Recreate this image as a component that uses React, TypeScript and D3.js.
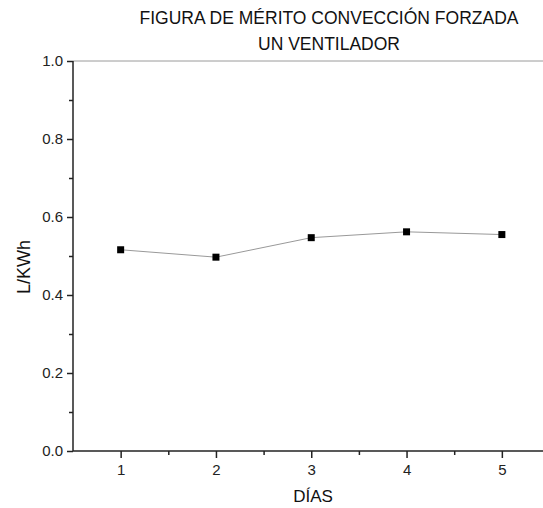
import React, { useEffect, useRef } from 'react';
import * as d3 from 'd3';

const days = [1, 2, 3, 4, 5];
const meritValues = [0.516, 0.497, 0.547, 0.562, 0.555];
const yTicks = [0.0, 0.2, 0.4, 0.6, 0.8, 1.0];
const titleLines = ['FIGURA DE MÉRITO CONVECCIÓN FORZADA', 'UN VENTILADOR'];

const W = 543;
const H = 508;
const margin = { top: 61, left: 73, bottom: 57 };
const font = 'Liberation Sans, Arial, sans-serif';

const drawChart = (node: SVGSVGElement) => {
    const svg = d3.select(node);
    svg.selectAll('*').remove();

    const plotH = H - margin.top - margin.bottom;

    // x runs 0.5 .. 5.5, the right edge is cut off by the picture
    const x = d3.scaleLinear().domain([0.5, 5.5]).range([margin.left, margin.left + 476.5]);
    const y = d3.scaleLinear().domain([0, 1]).range([margin.top + plotH, margin.top]);

    svg.append('rect').attr('width', W).attr('height', H).attr('fill', '#fff');

    // top frame line
    svg.append('line')
        .attr('x1', x(0.5)).attr('x2', W)
        .attr('y1', y(1)).attr('y2', y(1))
        .attr('stroke', '#9a9a9a').attr('stroke-width', 1);

    // --- X axis ---
    const xAxis = d3.axisBottom(x)
        .tickValues(days)
        .tickSize(7)
        .tickPadding(6)
        .tickFormat(d3.format('d'));
    const xg = svg.append('g').attr('transform', `translate(0, ${y(0)})`).call(xAxis);
    xg.select('.domain').attr('d', `M${x(0.5)},0H${W}`);
    const xMinor = d3.axisBottom(x).tickValues([1.5, 2.5, 3.5, 4.5]).tickSize(4).tickFormat(() => '');
    const xmg = svg.append('g').attr('transform', `translate(0, ${y(0)})`).call(xMinor);
    xmg.select('.domain').remove();

    // --- Y axis ---
    const yAxis = d3.axisLeft(y)
        .tickValues(yTicks)
        .tickSize(6)
        .tickPadding(4)
        .tickFormat(d3.format('.1f'));
    const yg = svg.append('g').attr('transform', `translate(${margin.left}, 0)`).call(yAxis);
    yg.select('.domain').attr('d', `M0,${y(0)}V${y(1)}`);
    const yMinor = d3.axisLeft(y).tickValues([0.1, 0.3, 0.5, 0.7, 0.9]).tickSize(4).tickFormat(() => '');
    const ymg = svg.append('g').attr('transform', `translate(${margin.left}, 0)`).call(yMinor);
    ymg.select('.domain').remove();

    [xg, xmg, yg, ymg].forEach((g) => g.attr('font-family', font).attr('font-size', 15));
    svg.selectAll('.domain').attr('stroke', '#222').attr('stroke-width', 1.5);
    svg.selectAll('.tick line').attr('stroke', '#222').attr('stroke-width', 1.5);
    svg.selectAll('.tick text').attr('fill', '#222');

    // --- Series ---
    const pts = days.map((d, i) => [x(d), y(meritValues[i])] as [number, number]);
    svg.append('path')
        .attr('d', d3.line()(pts))
        .attr('fill', 'none')
        .attr('stroke', '#999')
        .attr('stroke-width', 1);

    svg.selectAll('.marker')
        .data(pts)
        .enter()
        .append('rect')
        .attr('x', (p) => p[0] - 3.5)
        .attr('y', (p) => p[1] - 3.5)
        .attr('width', 7)
        .attr('height', 7)
        .attr('fill', '#000');

    // --- Titles ---
    titleLines.forEach((t, i) => {
        svg.append('text')
            .attr('x', 329)
            .attr('y', 24 + i * 26)
            .attr('text-anchor', 'middle')
            .attr('font-family', font)
            .attr('font-size', 17.5)
            .attr('fill', '#111')
            .text(t);
    });

    svg.append('text')
        .attr('transform', `translate(30, 267) rotate(-90)`)
        .attr('text-anchor', 'middle')
        .attr('font-family', font)
        .attr('font-size', 18)
        .attr('fill', '#111')
        .text('L/KWh');

    svg.append('text')
        .attr('x', 313)
        .attr('y', 502)
        .attr('text-anchor', 'middle')
        .attr('font-family', font)
        .attr('font-size', 17)
        .attr('fill', '#111')
        .text('DÍAS');
};

export default function App() {
    const ref = useRef<SVGSVGElement | null>(null);

    useEffect(() => {
        if (ref.current) drawChart(ref.current);
    }, []);

    return (
        <svg
            ref={ref}
            width={W}
            height={H}
            style={{ display: 'block', position: 'absolute', left: 0, top: 0 }}
        />
    );
}
